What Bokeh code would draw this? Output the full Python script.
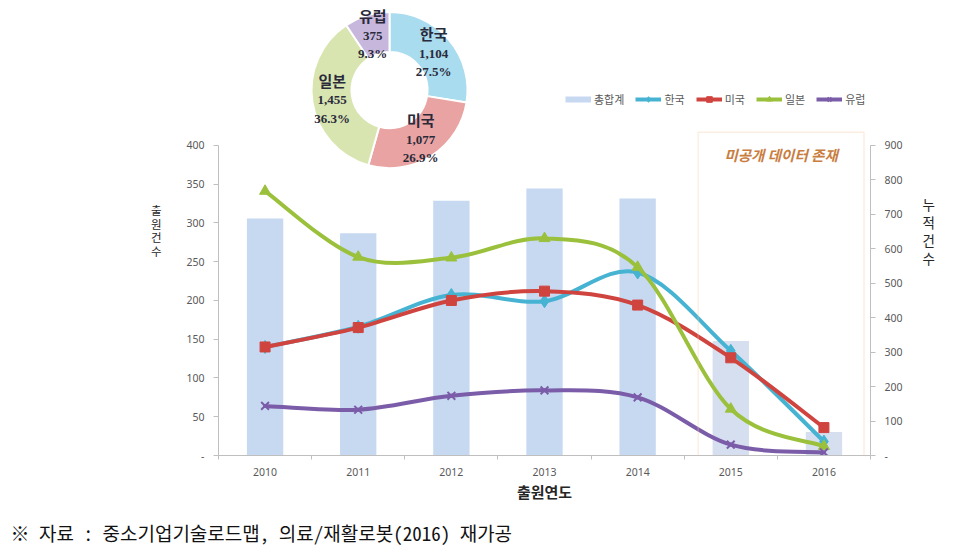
import numpy as np
from bokeh.plotting import figure
from bokeh.models import (Range1d, LinearAxis, FixedTicker, Legend, LegendItem,
                          Label, BoxAnnotation, Title)
from bokeh.core.properties import value
from bokeh.embed import file_html
from bokeh.resources import INLINE

# ---------------- data ----------------
years = [2010, 2011, 2012, 2013, 2014, 2015, 2016]
total = [688, 645, 739, 775, 746, 332, 68]          # 총합계 (right axis, 누적건수)
korea = [140, 166, 207, 199, 236, 135, 18]          # 한국
usa = [140, 165, 200, 212, 194, 126, 36]            # 미국
japan = [341, 256, 255, 280, 243, 60, 12]           # 일본
europe = [64, 59, 77, 84, 75, 14, 4]                # 유럽

pie_names = ["한국", "미국", "일본", "유럽"]
pie_values = [1104, 1077, 1455, 375]

left_ticks = [0, 50, 100, 150, 200, 250, 300, 350, 400]
right_ticks = [0, 100, 200, 300, 400, 500, 600, 700, 800, 900]

# ---------------- styles ----------------
KFONT = "Noto Sans CJK KR"
TICKFONT = "Noto Sans"
C_BAR = "#c6d9f1"
C_BAR_LIGHT = "#d5dff0"
C_KR = "#46b3d3"
C_US = "#d0443f"
C_JP = "#9bc13c"
C_EU = "#7b5ca8"
PIE_COLORS = ["#a9dcef", "#e9a3a3", "#d8e5b0", "#c7b7dd"]
AXIS_C = "#bfbfbf"
LABEL_C = "#595959"

W, H = 962, 558
FL, FR, FT, FB = 218, 870, 5, 457          # frame edges on the page
PX_PER_UNIT = (457 - 145.5) / 400
y_top = (FB - FT) / PX_PER_UNIT

p = figure(width=W, height=H, output_backend="svg", toolbar_location=None,
           x_range=Range1d(2009.5, 2016.5), y_range=Range1d(0, y_top),
           min_border_left=FL, min_border_right=W - FR, min_border_top=FT,
           min_border_bottom=H - FB, outline_line_color=None)
p.extra_y_ranges = {"right": Range1d(0, y_top * 900 / 400)}
# donut coordinate system: 1 unit = 1 px, origin at the donut centre
DCX, DCY = 389, 90
p.extra_x_ranges = {"pie_x": Range1d(FL - DCX, FR - DCX)}
p.extra_y_ranges["pie_y"] = Range1d(DCY - FB, DCY - FT)
for g in p.grid:
    g.visible = False

# ---------------- axes ----------------
xa = p.xaxis[0]
xa.ticker = FixedTicker(ticks=years, minor_ticks=[y - 0.5 for y in years] + [years[-1] + 0.5])
xa.bounds = (years[0] - 0.5, years[-1] + 0.5)
xa.axis_line_color = AXIS_C
xa.major_tick_out = 0
xa.major_tick_in = 0
xa.minor_tick_out = 4
xa.minor_tick_in = 0
xa.minor_tick_line_color = AXIS_C
xa.major_label_text_font = TICKFONT
xa.major_label_text_font_size = "10.5px"
xa.major_label_text_color = LABEL_C
xa.major_label_standoff = 8
xa.axis_label = "출원연도"
xa.axis_label_text_font = KFONT
xa.axis_label_text_font_style = "bold"
xa.axis_label_text_font_size = "15px"
xa.axis_label_text_color = "#262626"
xa.axis_label_standoff = 2

ya = p.yaxis[0]
ya.ticker = FixedTicker(ticks=left_ticks)
ya.bounds = (0, 400)
ya.major_label_overrides = {0: "-"}
ya.axis_line_color = AXIS_C
ya.major_tick_line_color = AXIS_C
ya.major_tick_out = 5
ya.major_tick_in = 0
ya.minor_tick_line_color = None
ya.major_label_text_font = TICKFONT
ya.major_label_text_font_size = "10.5px"
ya.major_label_text_color = LABEL_C
ya.major_label_standoff = 9
ya.axis_label = "출\n원\n건\n수"
ya.axis_label_text_font = KFONT
ya.axis_label_text_font_size = "11.5px"
ya.axis_label_text_font_style = "normal"
ya.axis_label_text_color = "#262626"
ya.axis_label_text_line_height = 0.86
ya.axis_label_standoff = 22

ra = LinearAxis(y_range_name="right", ticker=FixedTicker(ticks=right_ticks), bounds=(0, 900))
ra.major_label_overrides = {0: "-"}
ra.axis_line_color = AXIS_C
ra.major_tick_line_color = AXIS_C
ra.major_tick_out = 5
ra.major_tick_in = 0
ra.minor_tick_line_color = None
ra.major_label_text_font = TICKFONT
ra.major_label_text_font_size = "10.5px"
ra.major_label_text_color = LABEL_C
ra.major_label_standoff = 9
ra.axis_label = "누\n적\n건\n수"
ra.axis_label_text_font = KFONT
ra.axis_label_text_font_size = "13.5px"
ra.axis_label_text_font_style = "normal"
ra.axis_label_text_color = "#262626"
ra.axis_label_text_line_height = 0.9
ra.axis_label_standoff = 17
for ax in (ya, ra):
    try:
        ax.axis_label_orientation = "horizontal"
    except Exception:
        pass
p.add_layout(ra, "right")

# ---------------- bars ----------------
bar_colors = [C_BAR] * 5 + [C_BAR_LIGHT] * 2
p.vbar(x=years, top=total, width=0.39, y_range_name="right",
       fill_color=bar_colors, line_color=None)
legend_total = p.line(years, total, y_range_name="right", line_color=C_BAR,
                      line_width=6, visible=False)

# ---------------- smoothed lines ----------------
def smooth_segments(xs, ys):
    x = np.asarray(xs, float)
    y = np.asarray(ys, float)
    n = len(x)
    xp = np.concatenate([[x[0]], x, [x[-1]]])
    yp = np.concatenate([[y[0]], y, [y[-1]]])
    cx0 = x[:-1] + (xp[2:n + 1] - xp[0:n - 1]) / 6
    cy0 = y[:-1] + (yp[2:n + 1] - yp[0:n - 1]) / 6
    cx1 = x[1:] - (xp[3:n + 2] - xp[1:n]) / 6
    cy1 = y[1:] - (yp[3:n + 2] - yp[1:n]) / 6
    return dict(x0=x[:-1], y0=y[:-1], x1=x[1:], y1=y[1:],
                cx0=cx0, cy0=cy0, cx1=cx1, cy1=cy1)

series = [
    ("한국", korea, C_KR, "diamond", 13),
    ("미국", usa, C_US, "square", 10),
    ("일본", japan, C_JP, "triangle", 11),
    ("유럽", europe, C_EU, "x", 11),
]

legend_items = [LegendItem(label="총합계", renderers=[legend_total])]
for name, vals, col, marker, msize in series:
    seg = smooth_segments(years, vals)
    p.bezier(line_color=col, line_width=4, line_cap="round", **seg)
    if marker == "x":
        sr = p.scatter(years, vals, marker=marker, size=msize, line_color=col, line_width=2)
    else:
        sr = p.scatter(years, vals, marker=marker, size=msize, fill_color=col,
                       line_color=col, line_width=1)
    dl = p.line(years, vals, line_color=col, line_width=4, visible=False)
    legend_items.append(LegendItem(label=name, renderers=[dl, sr]))

legend = Legend(items=legend_items, location=(347, 348), orientation="horizontal",
                glyph_width=26, glyph_height=14, label_height=14, label_standoff=3,
                spacing=11, padding=0, margin=0, border_line_color=None,
                background_fill_alpha=0, inactive_fill_alpha=0, label_text_font=KFONT,
                label_text_font_size="11px", label_text_color=LABEL_C)
p.add_layout(legend)

# ---------------- unpublished-data box ----------------
box = BoxAnnotation(left=2014.65, right=2016.43, top=417, bottom=-30, bottom_units="screen",
                    fill_alpha=0, line_color="#f4c59a", line_width=1.5)
p.add_layout(box)
p.add_layout(Label(x=2015.54, y=388, text="미공개 데이터 존재", text_font=KFONT,
                   text_font_style="bold italic", text_color="#c97d3f",
                   text_font_size="14.5px", text_align="center", text_baseline="middle"))

# ---------------- donut ----------------
vals = np.array(pie_values, float)
frac = vals / vals.sum()
cum = np.concatenate([[0], np.cumsum(frac)])
start = np.pi / 2 - 2 * np.pi * cum[:-1]
end = np.pi / 2 - 2 * np.pi * cum[1:]
p.annular_wedge(x=0, y=0, inner_radius=38, outer_radius=78,
                start_angle=start, end_angle=end, direction="clock",
                fill_color=PIE_COLORS, line_color="white", line_width=2,
                x_range_name="pie_x", y_range_name="pie_y")
mid = np.pi * (cum[:-1] + cum[1:])
lx = 58 * np.sin(mid)
ly = 58 * np.cos(mid)
num_txt = [f"{int(v):,}" for v in pie_values]
pct_txt = [f"{f * 100:.1f}%" for f in frac]
p.text(x=lx, y=ly, text=pie_names, y_offset=-19, text_align="center", text_baseline="middle",
       text_font=value(KFONT), text_font_style="bold", text_font_size="15px",
       text_color="#2a2a3a", x_range_name="pie_x", y_range_name="pie_y")
p.text(x=lx, y=ly, text=num_txt, y_offset=1, text_align="center", text_baseline="middle",
       text_font=value("Liberation Serif"), text_font_style="bold", text_font_size="13px",
       text_color="#2a2a3a", x_range_name="pie_x", y_range_name="pie_y")
p.text(x=lx, y=ly, text=pct_txt, y_offset=19, text_align="center", text_baseline="middle",
       text_font=value("Liberation Serif"), text_font_style="bold", text_font_size="13px",
       text_color="#2a2a3a", x_range_name="pie_x", y_range_name="pie_y")

# ---------------- footnote ----------------
p.add_layout(Title(text="※ 자료 : 중소기업기술로드맵, 의료/재활로봇(2016) 재가공",
                   align="left", offset=-(FL - 10),
                   text_font="Noto Sans Mono CJK KR, Noto Sans CJK KR", text_font_size="19px",
                   text_font_style="normal", text_color="#111111", standoff=25), "below")

open("out.html", "w").write(file_html(p, INLINE))
